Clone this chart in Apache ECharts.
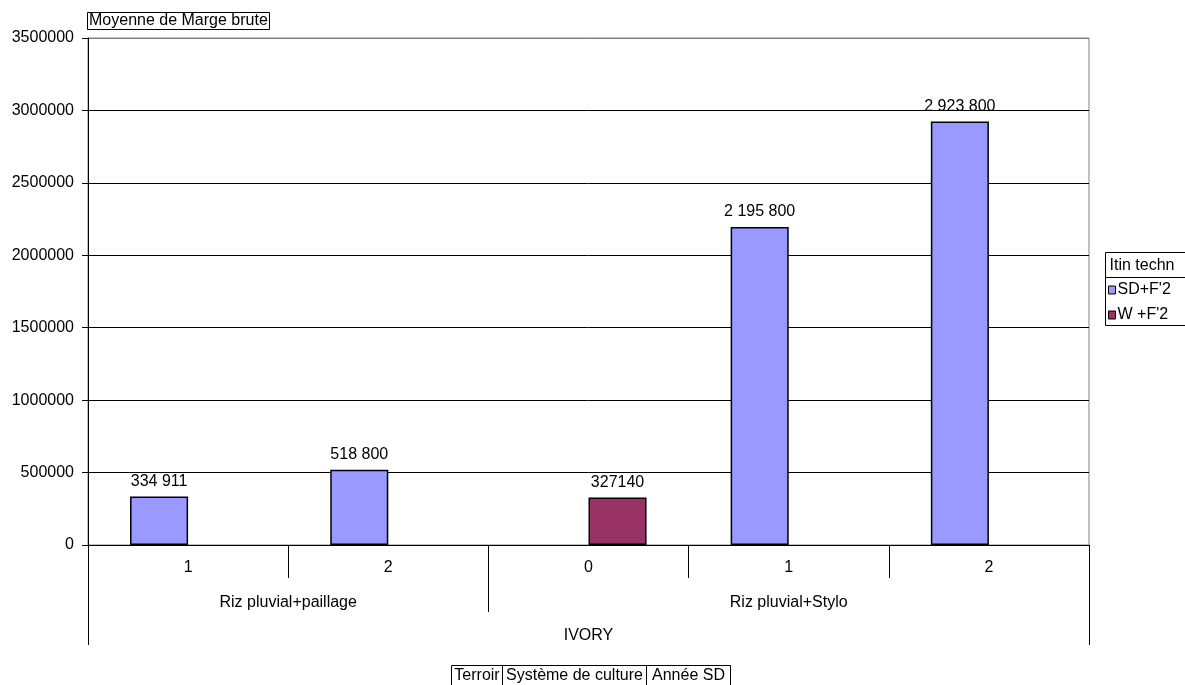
<!DOCTYPE html>
<html>
<head>
<meta charset="utf-8">
<script src="https://cdn.jsdelivr.net/npm/echarts@6/dist/echarts.min.js"></script>
<style>
  html, body { margin: 0; padding: 0; background: #fff; }
  #chart { width: 1185px; height: 685px; }
</style>
</head>
<body>
<div id="chart"></div>
<script>
// Année SD (first level of the category axis)
const years = ['1', '2', '0', '1', '2'];
// Système de culture groups: name and number of years covered
const systems = ['Riz pluvial+paillage', 'Riz pluvial+Stylo'];
const systemSpans = [2, 3];
// Terroir
const terroirs = ['IVORY'];
// Moyenne de Marge brute per itinéraire technique
const seriesNames = ["SD+F'2", "W +F'2"];
const sdF2 = [334911, 518800, null, 2195800, 2923800];
const wF2 = [null, null, 327140, null, null];
const yTicks = { min: 0, max: 3500000, step: 500000 };

const FONT = "'Liberation Sans', Arial, sans-serif";

// boundaries and centres of the system groups, in category units
const sysBounds = [0];
systemSpans.forEach(s => sysBounds.push(sysBounds[sysBounds.length - 1] + s));
const sysCentres = systems.map((_, i) => (sysBounds[i] + sysBounds[i + 1]) / 2);
const yearBounds = years.map((_, i) => i).concat([years.length]);

function spaced(v) {
  return String(v).replace(/\B(?=(\d{3})+(?!\d))/g, ' ');
}

const chart = echarts.init(document.getElementById('chart'));

const axisBase = {
  type: 'value', position: 'bottom', min: 0, max: years.length,
  axisLine: { show: false }, splitLine: { show: false }
};
const labelBase = { fontSize: 16, color: '#000', fontFamily: FONT };

chart.setOption({
  animation: false,
  backgroundColor: '#fff',
  textStyle: { fontFamily: FONT },
  title: {
    text: 'Moyenne de Marge brute',
    left: 87, top: 12,
    padding: [0, 2, 0, 2],
    borderColor: '#000', borderWidth: 1,
    textStyle: { fontFamily: FONT, fontSize: 16, fontWeight: 'normal', color: '#000', lineHeight: 18 }
  },
  legend: {
    data: seriesNames,
    orient: 'vertical',
    left: 1108, top: 281,
    itemWidth: 7, itemHeight: 8, itemGap: 7,
    icon: 'rect',
    padding: 0,
    itemStyle: { borderColor: '#000', borderWidth: 1 },
    textStyle: { fontFamily: FONT, fontSize: 16, color: '#000', padding: [0, 0, 0, -3], lineHeight: 18 }
  },
  grid: {
    left: 88, right: 96, top: 38, bottom: 140,
    show: true, borderColor: '#808080', borderWidth: 1
  },
  xAxis: [
    {
      type: 'category', data: years, position: 'bottom',
      axisLine: { lineStyle: { color: '#000', width: 1 } },
      axisTick: { show: false },
      axisLabel: Object.assign({ margin: 15 }, labelBase)
    },
    // year boundaries
    Object.assign({}, axisBase, {
      axisTick: { customValues: yearBounds, length: 33, lineStyle: { color: '#000' } },
      axisLabel: { show: false }
    }),
    // system groups
    Object.assign({}, axisBase, {
      axisTick: { customValues: sysBounds, length: 67, lineStyle: { color: '#000' } },
      axisLabel: Object.assign({
        customValues: sysCentres, margin: 50,
        formatter: v => systems[sysCentres.indexOf(v)]
      }, labelBase)
    }),
    // terroir
    Object.assign({}, axisBase, {
      axisTick: { customValues: [0, years.length], length: 100, lineStyle: { color: '#000' } },
      axisLabel: Object.assign({
        customValues: [years.length / 2], margin: 83,
        formatter: () => terroirs[0]
      }, labelBase)
    })
  ],
  yAxis: {
    type: 'value', min: yTicks.min, max: yTicks.max, interval: yTicks.step,
    axisLine: { show: true, lineStyle: { color: '#000' } },
    axisTick: { show: true, length: 6, lineStyle: { color: '#000' } },
    axisLabel: Object.assign({ margin: 14, formatter: v => String(v) }, labelBase),
    splitLine: {
      lineStyle: {
        color: ['#000', '#000', '#000', '#000', '#000', '#000', '#000', '#808080'],
        width: 1
      }
    }
  },
  series: [
    {
      name: seriesNames[0], type: 'bar', data: sdF2,
      barGap: '0%', barCategoryGap: '42%',
      itemStyle: { color: '#9999FF', borderColor: '#000', borderWidth: 1.5 },
      label: Object.assign({
        show: true, position: 'top', distance: 7,
        formatter: p => spaced(p.value)
      }, labelBase)
    },
    {
      name: seriesNames[1], type: 'bar', data: wF2,
      barGap: '0%', barCategoryGap: '42%',
      itemStyle: { color: '#993366', borderColor: '#000', borderWidth: 1.5 },
      label: Object.assign({
        show: true, position: 'top', distance: 7,
        formatter: p => String(p.value)
      }, labelBase)
    }
  ],
  graphic: [
    // legend frame with its heading
    {
      type: 'group', left: 1103, top: 252,
      children: [
        { type: 'rect', shape: { x: 0, y: 0, width: 81, height: 73 },
          style: { fill: 'transparent', stroke: '#000', lineWidth: 1 } },
        { type: 'line', shape: { x1: 0, y1: 25, x2: 81, y2: 25 },
          style: { stroke: '#000', lineWidth: 1 } },
        { type: 'text', x: 4, y: 5,
          style: { text: 'Itin techn', font: '16px ' + FONT, fill: '#000' } }
      ]
    },
    // field buttons under the chart
    {
      type: 'group', left: 451, top: 665,
      children: [
        { type: 'rect', shape: { x: 0, y: 0, width: 51, height: 24 },
          style: { fill: '#fff', stroke: '#000', lineWidth: 1 } },
        { type: 'text', x: 25.5, y: 2,
          style: { text: 'Terroir', font: '16px ' + FONT, fill: '#000', align: 'center' } },
        { type: 'rect', shape: { x: 51, y: 0, width: 144, height: 24 },
          style: { fill: '#fff', stroke: '#000', lineWidth: 1 } },
        { type: 'text', x: 123, y: 2,
          style: { text: 'Système de culture', font: '16px ' + FONT, fill: '#000', align: 'center' } },
        { type: 'rect', shape: { x: 195, y: 0, width: 84, height: 24 },
          style: { fill: '#fff', stroke: '#000', lineWidth: 1 } },
        { type: 'text', x: 237, y: 2,
          style: { text: 'Année SD', font: '16px ' + FONT, fill: '#000', align: 'center' } }
      ]
    }
  ]
});
</script>
</body>
</html>
